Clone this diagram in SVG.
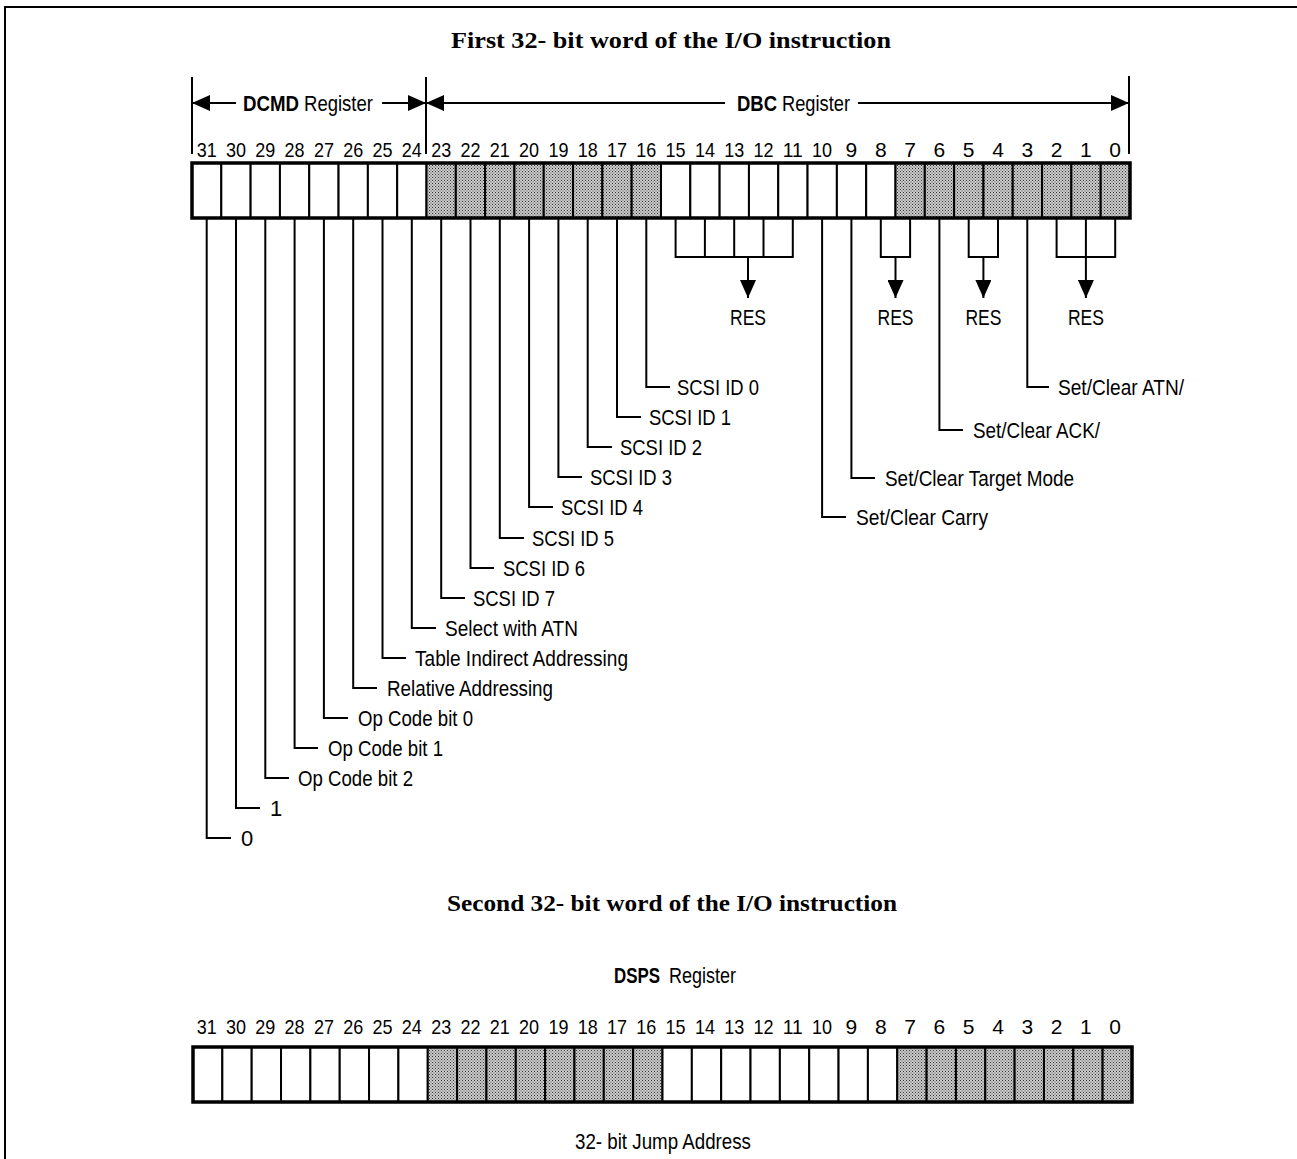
<svg xmlns="http://www.w3.org/2000/svg" width="1297" height="1159" viewBox="0 0 1297 1159">
<style>
  .t{font-family:"Liberation Sans Narrow","Liberation Sans",Arial,sans-serif;font-size:22px;fill:#000}
  .n{font-family:"Liberation Sans Narrow","Liberation Sans",Arial,sans-serif;font-size:21px;fill:#000;text-anchor:middle}
  .b{font-weight:bold}
  .ttl{font-family:"Liberation Serif","Times New Roman",serif;font-size:24px;font-weight:bold;fill:#000}
  .ln{stroke:#000;stroke-width:2;fill:none}
  .cell{stroke:#000;stroke-width:2;fill:#fff}
  .sh{stroke:#000;stroke-width:2;fill:url(#dots)}
  .outer{stroke:#000;stroke-width:3.5;fill:none}
</style>
<defs>
  <pattern id="dots" width="3" height="3" patternUnits="userSpaceOnUse">
    <rect width="3" height="3" fill="#c8c8c8"/>
    <rect x="0" y="0" width="1" height="1" fill="#3a3a3a"/>
    <rect x="1.5" y="1.5" width="1" height="1" fill="#5a5a5a"/>
  </pattern>
  <marker id="ah" viewBox="0 0 18 16" refX="18" refY="8" markerWidth="18" markerHeight="16" markerUnits="userSpaceOnUse" orient="auto-start-reverse">
    <path d="M0,0 L18,8 L0,16 Z" fill="#000"/>
  </marker>
</defs>
<rect width="1297" height="1159" fill="#fff"/>
<g id="frame">
  <path class="ln" d="M5,1159 V7 H1297"/>
</g>

<g id="title1"><text class="ttl" x="451" y="48" textLength="440" lengthAdjust="spacingAndGlyphs">First 32- bit word of the I/O instruction</text></g>

<g id="register-ranges">
  <line class="ln" x1="192" y1="77" x2="192" y2="154"/>
  <line class="ln" x1="426" y1="77" x2="426" y2="154"/>
  <line class="ln" x1="1129" y1="76" x2="1129" y2="154"/>
  <text class="t b" x="243" y="111" textLength="56" lengthAdjust="spacingAndGlyphs">DCMD</text>
  <text class="t" x="304" y="111" textLength="69" lengthAdjust="spacingAndGlyphs">Register</text>
  <text class="t b" x="737" y="111" textLength="40" lengthAdjust="spacingAndGlyphs">DBC</text>
  <text class="t" x="782" y="111" textLength="68" lengthAdjust="spacingAndGlyphs">Register</text>
</g>

<g id="word1-register">
  <g id="word1-bits">
    <text class="n" x="206.7" y="157" textLength="20" lengthAdjust="spacingAndGlyphs">31</text><text class="n" x="236" y="157" textLength="20" lengthAdjust="spacingAndGlyphs">30</text><text class="n" x="265.3" y="157" textLength="20" lengthAdjust="spacingAndGlyphs">29</text><text class="n" x="294.6" y="157" textLength="20" lengthAdjust="spacingAndGlyphs">28</text>
    <text class="n" x="323.9" y="157" textLength="20" lengthAdjust="spacingAndGlyphs">27</text><text class="n" x="353.2" y="157" textLength="20" lengthAdjust="spacingAndGlyphs">26</text><text class="n" x="382.5" y="157" textLength="20" lengthAdjust="spacingAndGlyphs">25</text><text class="n" x="411.8" y="157" textLength="20" lengthAdjust="spacingAndGlyphs">24</text>
    <text class="n" x="441.2" y="157" textLength="20" lengthAdjust="spacingAndGlyphs">23</text><text class="n" x="470.5" y="157" textLength="20" lengthAdjust="spacingAndGlyphs">22</text><text class="n" x="499.8" y="157" textLength="20" lengthAdjust="spacingAndGlyphs">21</text><text class="n" x="529.1" y="157" textLength="20" lengthAdjust="spacingAndGlyphs">20</text>
    <text class="n" x="558.4" y="157" textLength="20" lengthAdjust="spacingAndGlyphs">19</text><text class="n" x="587.7" y="157" textLength="20" lengthAdjust="spacingAndGlyphs">18</text><text class="n" x="617" y="157" textLength="20" lengthAdjust="spacingAndGlyphs">17</text><text class="n" x="646.3" y="157" textLength="20" lengthAdjust="spacingAndGlyphs">16</text>
    <text class="n" x="675.6" y="157" textLength="20" lengthAdjust="spacingAndGlyphs">15</text><text class="n" x="704.9" y="157" textLength="20" lengthAdjust="spacingAndGlyphs">14</text><text class="n" x="734.2" y="157" textLength="20" lengthAdjust="spacingAndGlyphs">13</text><text class="n" x="763.5" y="157" textLength="20" lengthAdjust="spacingAndGlyphs">12</text>
    <text class="n" x="792.8" y="157" textLength="20" lengthAdjust="spacingAndGlyphs">11</text><text class="n" x="822.1" y="157" textLength="20" lengthAdjust="spacingAndGlyphs">10</text><text class="n" x="851.4" y="157">9</text><text class="n" x="880.8" y="157">8</text>
    <text class="n" x="910.1" y="157">7</text><text class="n" x="939.4" y="157">6</text><text class="n" x="968.7" y="157">5</text><text class="n" x="998" y="157">4</text>
    <text class="n" x="1027.3" y="157">3</text><text class="n" x="1056.6" y="157">2</text><text class="n" x="1085.9" y="157">1</text><text class="n" x="1115.2" y="157">0</text>
  </g>
  <g id="word1-cells">
    <rect class="cell" x="192" y="163" width="29.31" height="55"/><rect class="cell" x="221.31" y="163" width="29.31" height="55"/>
    <rect class="cell" x="250.63" y="163" width="29.31" height="55"/><rect class="cell" x="279.94" y="163" width="29.31" height="55"/>
    <rect class="cell" x="309.25" y="163" width="29.31" height="55"/><rect class="cell" x="338.56" y="163" width="29.31" height="55"/>
    <rect class="cell" x="367.88" y="163" width="29.31" height="55"/><rect class="cell" x="397.19" y="163" width="29.31" height="55"/>
    <rect class="sh" x="426.5" y="163" width="29.31" height="55"/><rect class="sh" x="455.81" y="163" width="29.31" height="55"/>
    <rect class="sh" x="485.13" y="163" width="29.31" height="55"/><rect class="sh" x="514.44" y="163" width="29.31" height="55"/>
    <rect class="sh" x="543.75" y="163" width="29.31" height="55"/><rect class="sh" x="573.06" y="163" width="29.31" height="55"/>
    <rect class="sh" x="602.38" y="163" width="29.31" height="55"/><rect class="sh" x="631.69" y="163" width="29.31" height="55"/>
    <rect class="cell" x="661" y="163" width="29.31" height="55"/><rect class="cell" x="690.31" y="163" width="29.31" height="55"/>
    <rect class="cell" x="719.63" y="163" width="29.31" height="55"/><rect class="cell" x="748.94" y="163" width="29.31" height="55"/>
    <rect class="cell" x="778.25" y="163" width="29.31" height="55"/><rect class="cell" x="807.56" y="163" width="29.31" height="55"/>
    <rect class="cell" x="836.88" y="163" width="29.31" height="55"/><rect class="cell" x="866.19" y="163" width="29.31" height="55"/>
    <rect class="sh" x="895.5" y="163" width="29.31" height="55"/><rect class="sh" x="924.81" y="163" width="29.31" height="55"/>
    <rect class="sh" x="954.13" y="163" width="29.31" height="55"/><rect class="sh" x="983.44" y="163" width="29.31" height="55"/>
    <rect class="sh" x="1012.75" y="163" width="29.31" height="55"/><rect class="sh" x="1042.06" y="163" width="29.31" height="55"/>
    <rect class="sh" x="1071.38" y="163" width="29.31" height="55"/><rect class="sh" x="1100.69" y="163" width="29.31" height="55"/>
    <rect class="outer" x="192" y="163" width="938" height="55"/>
  </g>
</g>

<g id="connectors">
  <line class="ln" x1="192" y1="103" x2="236" y2="103" marker-start="url(#ah)"/>
  <line class="ln" x1="382" y1="103" x2="426" y2="103" marker-end="url(#ah)"/>
  <line class="ln" x1="426" y1="103" x2="725" y2="103" marker-start="url(#ah)"/>
  <line class="ln" x1="858" y1="103" x2="1129" y2="103" marker-end="url(#ah)"/>
  <!-- left leaders -->
  <path class="ln" d="M646.3,218 V387 H670"/>
  <path class="ln" d="M617,218 V417 H641"/>
  <path class="ln" d="M587.7,218 V447 H612"/>
  <path class="ln" d="M558.4,218 V477 H582"/>
  <path class="ln" d="M529.1,218 V507 H553"/>
  <path class="ln" d="M499.8,218 V538 H524"/>
  <path class="ln" d="M470.5,218 V568 H494"/>
  <path class="ln" d="M441.2,218 V598 H465"/>
  <path class="ln" d="M411.8,218 V628 H436"/>
  <path class="ln" d="M382.5,218 V658 H406"/>
  <path class="ln" d="M353.2,218 V688 H377"/>
  <path class="ln" d="M323.9,218 V718 H348"/>
  <path class="ln" d="M294.6,218 V748 H318"/>
  <path class="ln" d="M265.3,218 V778 H289"/>
  <path class="ln" d="M236,218 V808 H260"/>
  <path class="ln" d="M206.7,218 V838 H231"/>
  <!-- right leaders -->
  <path class="ln" d="M1027.3,218 V387 H1049"/>
  <path class="ln" d="M939.4,218 V430 H963"/>
  <path class="ln" d="M851.4,218 V478 H875"/>
  <path class="ln" d="M822.1,218 V517 H846"/>
  <!-- RES brackets -->
  <path class="ln" d="M675.6,218 V257 M704.9,218 V257 M734.2,218 V257 M763.5,218 V257 M792.8,218 V257 M674.6,257 H793.8"/>
  <line class="ln" x1="748" y1="257" x2="748" y2="298" marker-end="url(#ah)"/>
  <path class="ln" d="M880.8,218 V257 H910.1 V218"/>
  <line class="ln" x1="895.5" y1="257" x2="895.5" y2="298" marker-end="url(#ah)"/>
  <path class="ln" d="M968.7,218 V257 H998 V218"/>
  <line class="ln" x1="983.4" y1="257" x2="983.4" y2="298" marker-end="url(#ah)"/>
  <path class="ln" d="M1056.6,218 V257 H1115.2 V218 M1085.9,218 V257"/>
  <line class="ln" x1="1085.9" y1="257" x2="1085.9" y2="298" marker-end="url(#ah)"/>
</g>

<g id="res-labels">
  <text class="t" x="748" y="325" text-anchor="middle" textLength="36" lengthAdjust="spacingAndGlyphs">RES</text>
  <text class="t" x="895.5" y="325" text-anchor="middle" textLength="36" lengthAdjust="spacingAndGlyphs">RES</text>
  <text class="t" x="983.4" y="325" text-anchor="middle" textLength="36" lengthAdjust="spacingAndGlyphs">RES</text>
  <text class="t" x="1085.9" y="325" text-anchor="middle" textLength="36" lengthAdjust="spacingAndGlyphs">RES</text>
</g>

<g id="field-labels">
  <text class="t" x="677" y="395" textLength="82" lengthAdjust="spacingAndGlyphs">SCSI ID 0</text>
  <text class="t" x="649" y="425" textLength="82" lengthAdjust="spacingAndGlyphs">SCSI ID 1</text>
  <text class="t" x="620" y="455" textLength="82" lengthAdjust="spacingAndGlyphs">SCSI ID 2</text>
  <text class="t" x="590" y="485" textLength="82" lengthAdjust="spacingAndGlyphs">SCSI ID 3</text>
  <text class="t" x="561" y="515" textLength="82" lengthAdjust="spacingAndGlyphs">SCSI ID 4</text>
  <text class="t" x="532" y="546" textLength="82" lengthAdjust="spacingAndGlyphs">SCSI ID 5</text>
  <text class="t" x="503" y="576" textLength="82" lengthAdjust="spacingAndGlyphs">SCSI ID 6</text>
  <text class="t" x="473" y="606" textLength="82" lengthAdjust="spacingAndGlyphs">SCSI ID 7</text>
  <text class="t" x="445" y="636" textLength="133" lengthAdjust="spacingAndGlyphs">Select with ATN</text>
  <text class="t" x="415" y="666" textLength="213" lengthAdjust="spacingAndGlyphs">Table Indirect Addressing</text>
  <text class="t" x="387" y="696" textLength="166" lengthAdjust="spacingAndGlyphs">Relative Addressing</text>
  <text class="t" x="358" y="726" textLength="115" lengthAdjust="spacingAndGlyphs">Op Code bit 0</text>
  <text class="t" x="328" y="756" textLength="115" lengthAdjust="spacingAndGlyphs">Op Code bit 1</text>
  <text class="t" x="298" y="786" textLength="115" lengthAdjust="spacingAndGlyphs">Op Code bit 2</text>
  <text class="t" x="270" y="816">1</text>
  <text class="t" x="241" y="846">0</text>
  <text class="t" x="1058" y="395" textLength="126" lengthAdjust="spacingAndGlyphs">Set/Clear ATN/</text>
  <text class="t" x="973" y="438" textLength="127" lengthAdjust="spacingAndGlyphs">Set/Clear ACK/</text>
  <text class="t" x="885" y="486" textLength="189" lengthAdjust="spacingAndGlyphs">Set/Clear Target Mode</text>
  <text class="t" x="856" y="525" textLength="132" lengthAdjust="spacingAndGlyphs">Set/Clear Carry</text>
</g>

<g id="title2"><text class="ttl" x="447" y="911" textLength="450" lengthAdjust="spacingAndGlyphs">Second 32- bit word of the I/O instruction</text></g>

<g id="dsps-label">
  <text class="t b" x="614" y="983" textLength="46" lengthAdjust="spacingAndGlyphs">DSPS</text>
  <text class="t" x="669" y="983" textLength="67" lengthAdjust="spacingAndGlyphs">Register</text>
</g>

<g id="word2-register">
  <g id="word2-bits">
    <text class="n" x="206.7" y="1034" textLength="20" lengthAdjust="spacingAndGlyphs">31</text><text class="n" x="236" y="1034" textLength="20" lengthAdjust="spacingAndGlyphs">30</text><text class="n" x="265.3" y="1034" textLength="20" lengthAdjust="spacingAndGlyphs">29</text><text class="n" x="294.6" y="1034" textLength="20" lengthAdjust="spacingAndGlyphs">28</text>
    <text class="n" x="323.9" y="1034" textLength="20" lengthAdjust="spacingAndGlyphs">27</text><text class="n" x="353.2" y="1034" textLength="20" lengthAdjust="spacingAndGlyphs">26</text><text class="n" x="382.5" y="1034" textLength="20" lengthAdjust="spacingAndGlyphs">25</text><text class="n" x="411.8" y="1034" textLength="20" lengthAdjust="spacingAndGlyphs">24</text>
    <text class="n" x="441.2" y="1034" textLength="20" lengthAdjust="spacingAndGlyphs">23</text><text class="n" x="470.5" y="1034" textLength="20" lengthAdjust="spacingAndGlyphs">22</text><text class="n" x="499.8" y="1034" textLength="20" lengthAdjust="spacingAndGlyphs">21</text><text class="n" x="529.1" y="1034" textLength="20" lengthAdjust="spacingAndGlyphs">20</text>
    <text class="n" x="558.4" y="1034" textLength="20" lengthAdjust="spacingAndGlyphs">19</text><text class="n" x="587.7" y="1034" textLength="20" lengthAdjust="spacingAndGlyphs">18</text><text class="n" x="617" y="1034" textLength="20" lengthAdjust="spacingAndGlyphs">17</text><text class="n" x="646.3" y="1034" textLength="20" lengthAdjust="spacingAndGlyphs">16</text>
    <text class="n" x="675.6" y="1034" textLength="20" lengthAdjust="spacingAndGlyphs">15</text><text class="n" x="704.9" y="1034" textLength="20" lengthAdjust="spacingAndGlyphs">14</text><text class="n" x="734.2" y="1034" textLength="20" lengthAdjust="spacingAndGlyphs">13</text><text class="n" x="763.5" y="1034" textLength="20" lengthAdjust="spacingAndGlyphs">12</text>
    <text class="n" x="792.8" y="1034" textLength="20" lengthAdjust="spacingAndGlyphs">11</text><text class="n" x="822.1" y="1034" textLength="20" lengthAdjust="spacingAndGlyphs">10</text><text class="n" x="851.4" y="1034">9</text><text class="n" x="880.8" y="1034">8</text>
    <text class="n" x="910.1" y="1034">7</text><text class="n" x="939.4" y="1034">6</text><text class="n" x="968.7" y="1034">5</text><text class="n" x="998" y="1034">4</text>
    <text class="n" x="1027.3" y="1034">3</text><text class="n" x="1056.6" y="1034">2</text><text class="n" x="1085.9" y="1034">1</text><text class="n" x="1115.2" y="1034">0</text>
  </g>
  <g id="word2-cells">
    <rect class="cell" x="193" y="1047" width="29.34" height="55"/><rect class="cell" x="222.34" y="1047" width="29.34" height="55"/>
    <rect class="cell" x="251.69" y="1047" width="29.34" height="55"/><rect class="cell" x="281.03" y="1047" width="29.34" height="55"/>
    <rect class="cell" x="310.38" y="1047" width="29.34" height="55"/><rect class="cell" x="339.72" y="1047" width="29.34" height="55"/>
    <rect class="cell" x="369.06" y="1047" width="29.34" height="55"/><rect class="cell" x="398.41" y="1047" width="29.34" height="55"/>
    <rect class="sh" x="427.75" y="1047" width="29.34" height="55"/><rect class="sh" x="457.09" y="1047" width="29.34" height="55"/>
    <rect class="sh" x="486.44" y="1047" width="29.34" height="55"/><rect class="sh" x="515.78" y="1047" width="29.34" height="55"/>
    <rect class="sh" x="545.13" y="1047" width="29.34" height="55"/><rect class="sh" x="574.47" y="1047" width="29.34" height="55"/>
    <rect class="sh" x="603.81" y="1047" width="29.34" height="55"/><rect class="sh" x="633.16" y="1047" width="29.34" height="55"/>
    <rect class="cell" x="662.5" y="1047" width="29.34" height="55"/><rect class="cell" x="691.84" y="1047" width="29.34" height="55"/>
    <rect class="cell" x="721.19" y="1047" width="29.34" height="55"/><rect class="cell" x="750.53" y="1047" width="29.34" height="55"/>
    <rect class="cell" x="779.88" y="1047" width="29.34" height="55"/><rect class="cell" x="809.22" y="1047" width="29.34" height="55"/>
    <rect class="cell" x="838.56" y="1047" width="29.34" height="55"/><rect class="cell" x="867.91" y="1047" width="29.34" height="55"/>
    <rect class="sh" x="897.25" y="1047" width="29.34" height="55"/><rect class="sh" x="926.59" y="1047" width="29.34" height="55"/>
    <rect class="sh" x="955.94" y="1047" width="29.34" height="55"/><rect class="sh" x="985.28" y="1047" width="29.34" height="55"/>
    <rect class="sh" x="1014.63" y="1047" width="29.34" height="55"/><rect class="sh" x="1043.97" y="1047" width="29.34" height="55"/>
    <rect class="sh" x="1073.31" y="1047" width="29.34" height="55"/><rect class="sh" x="1102.66" y="1047" width="29.34" height="55"/>
    <rect class="outer" x="193" y="1047" width="939" height="55"/>
  </g>
</g>

<g id="jump-label"><text class="t" x="663" y="1149" text-anchor="middle" textLength="176" lengthAdjust="spacingAndGlyphs">32- bit Jump Address</text></g>
</svg>
